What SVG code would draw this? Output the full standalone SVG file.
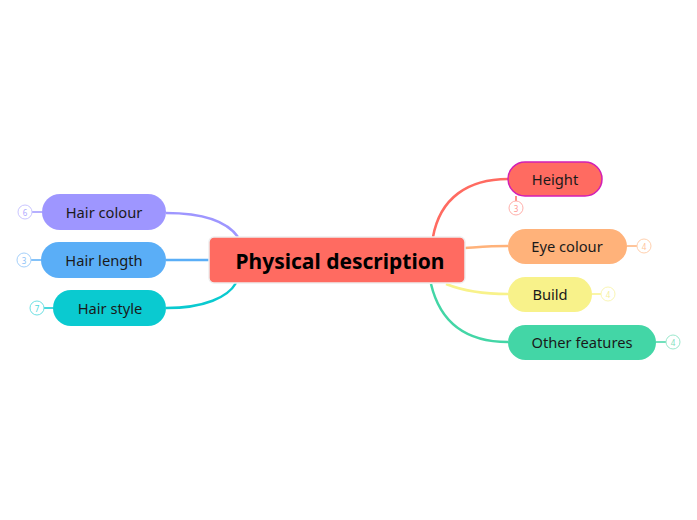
<svg xmlns="http://www.w3.org/2000/svg" width="697" height="520" viewBox="0 0 697 520">
<style>
.t{font-family:"Noto Sans","Open Sans",sans-serif;font-size:14.7px;fill:#1a1a1a;text-anchor:middle;dominant-baseline:central}
.c{font-family:"Noto Sans","Open Sans",sans-serif;font-size:21px;font-weight:bold;fill:#000;text-anchor:middle;dominant-baseline:central}
.n{font-family:"Noto Sans","Open Sans",sans-serif;font-size:8px;text-anchor:middle;dominant-baseline:central}
.e{fill:none;stroke-width:2.5}
.cnt{fill:#fff;stroke-width:1}
</style>
<rect width="697" height="520" fill="#fff"/>
<g id="connectors">
<path class="e" stroke="#9E96FF" d="M166,213 C200,213 226,220 238,237"/>
<path class="e" stroke="#5AAEF7" d="M166,260 L209,260"/>
<path class="e" stroke="#0ACAD0" d="M166,308 C205,308 228,297 236,283"/>
<path class="e" stroke="#FF6B61" d="M433,237 C440,198 468,179 508,179"/>
<path class="e" stroke="#FFB27A" d="M465,248 C480,247 490,246 508,246"/>
<path class="e" stroke="#F8F28A" d="M446,284 C466,292 486,294 508,294"/>
<path class="e" stroke="#43D6A6" d="M431,284 C441,326 470,342 508,342"/>
</g>
<g id="center">
<rect x="209" y="237" width="256" height="46" rx="5" fill="#FF6B61" stroke="#eeeeee" stroke-width="1.5"/>
<text class="c" x="340" y="261">Physical description</text>
</g>
<g id="hair-colour">
<line x1="32" y1="212" x2="42" y2="212" stroke="#9E96FF" stroke-width="1.5"/>
<circle class="cnt" cx="25" cy="212" r="7" stroke="#C9C5FF"/>
<text class="n" x="25" y="212" fill="#B0AAFF">6</text>
<rect x="42" y="194" width="124" height="36" rx="18" fill="#9E96FF"/>
<text class="t" x="104" y="212">Hair colour</text>
</g>
<g id="hair-length">
<line x1="31" y1="260" x2="41" y2="260" stroke="#5AAEF7" stroke-width="1.5"/>
<circle class="cnt" cx="24" cy="260" r="7" stroke="#A5D0FA"/>
<text class="n" x="24" y="260" fill="#8CC2F8">3</text>
<rect x="41" y="242" width="125" height="36" rx="18" fill="#5AAEF7"/>
<text class="t" x="104" y="260">Hair length</text>
</g>
<g id="hair-style">
<line x1="44" y1="308" x2="53" y2="308" stroke="#0ACAD0" stroke-width="1.5"/>
<circle class="cnt" cx="37" cy="308" r="7" stroke="#6EE0E3"/>
<text class="n" x="37" y="308" fill="#4AD8DC">7</text>
<rect x="53" y="290" width="113" height="36" rx="18" fill="#0ACAD0"/>
<text class="t" x="110" y="308">Hair style</text>
</g>
<g id="height">
<line x1="516" y1="196" x2="516" y2="201" stroke="#FF6B61" stroke-width="1.5"/>
<circle class="cnt" cx="516" cy="208" r="7" stroke="#FFB0AB"/>
<text class="n" x="516" y="208" fill="#FF9A93">3</text>
<rect x="508" y="162" width="94" height="34" rx="17" fill="#FF6B61" stroke="#D21FB5" stroke-width="1.5"/>
<text class="t" x="555" y="179">Height</text>
</g>
<g id="eye-colour">
<line x1="627" y1="246" x2="637" y2="246" stroke="#FFB27A" stroke-width="1.5"/>
<circle class="cnt" cx="644" cy="246" r="7" stroke="#FFD0AE"/>
<text class="n" x="644" y="246" fill="#FFC39A">4</text>
<rect x="508" y="229" width="119" height="35" rx="17.5" fill="#FFB27A"/>
<text class="t" x="567" y="246">Eye colour</text>
</g>
<g id="build">
<line x1="592" y1="294" x2="601" y2="294" stroke="#F8F28A" stroke-width="1.5"/>
<circle class="cnt" cx="608" cy="294" r="7" stroke="#FAF6B5"/>
<text class="n" x="608" y="294" fill="#F5EF9C">4</text>
<rect x="508" y="277" width="84" height="35" rx="17.5" fill="#F8F28A"/>
<text class="t" x="550" y="294">Build</text>
</g>
<g id="other-features">
<line x1="656" y1="342" x2="666" y2="342" stroke="#43D6A6" stroke-width="1.5"/>
<circle class="cnt" cx="673" cy="342" r="7" stroke="#9AE8CC"/>
<text class="n" x="673" y="342" fill="#7FE0BD">4</text>
<rect x="508" y="325" width="148" height="35" rx="17.5" fill="#43D6A6"/>
<text class="t" x="582" y="342">Other features</text>
</g>
</svg>
